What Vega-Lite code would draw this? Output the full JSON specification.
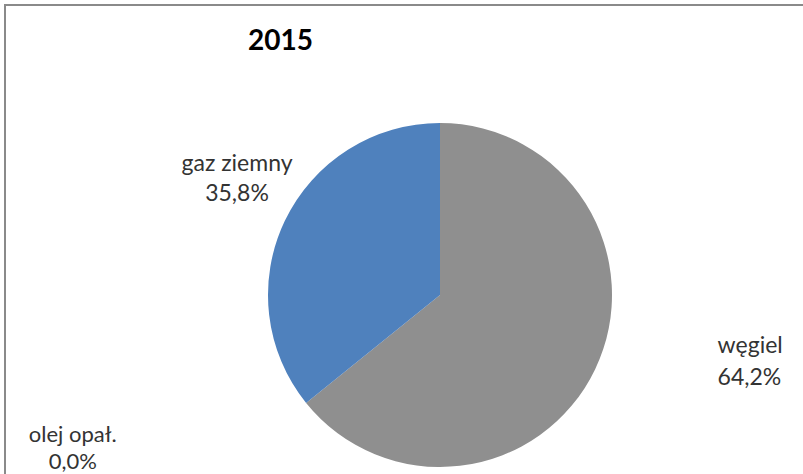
{
  "$schema": "https://vega.github.io/schema/vega-lite/v6.json",
  "width": 870,
  "height": 580,
  "autosize": {"type": "none"},
  "padding": {"left": 5, "top": 5, "right": 0, "bottom": 0},
  "background": "white",
  "view": {"stroke": "#8a8a8a", "strokeWidth": 2, "fill": "#ffffff"},
  "title": {"text": "2015", "font": "Lato", "fontSize": 28, "fontWeight": "bold", "color": "#000000", "anchor": "start", "frame": "group", "dx": 243, "dy": 55},
  "data": {"values": [
    {"source": "węgiel", "share": 64.2, "ord": 1, "label": "węgiel\n64,2%"},
    {"source": "olej opał.", "share": 0.0, "ord": 2, "label": "olej opał.\n0,0%"},
    {"source": "gaz ziemny", "share": 35.8, "ord": 3, "label": "gaz ziemny\n35,8%"}
  ]},
  "encoding": {
    "theta": {"field": "share", "type": "quantitative", "stack": true},
    "order": {"field": "ord", "type": "quantitative"}
  },
  "layer": [
    {
      "mark": {"type": "arc", "radius": 172, "strokeWidth": 0},
      "encoding": {
        "color": {"field": "source", "type": "nominal",
          "scale": {"domain": ["węgiel", "olej opał.", "gaz ziemny"], "range": ["#8f8f8f", "#984807", "#4f81bd"]},
          "legend": null}
      }
    },
    {
      "mark": {"type": "text", "radius": 290, "align": "left", "baseline": "middle", "dx": 16, "dy": -74, "font": "Lato", "fontSize": 23, "lineHeight": 32, "color": "#333333", "lineBreak": "\n"},
      "encoding": {"text": {"condition": {"test": "datum.source === 'węgiel'", "field": "label"}, "value": ""}}
    },
    {
      "mark": {"type": "text", "radius": 225, "align": "center", "baseline": "middle", "dy": -34, "font": "Lato", "fontSize": 23, "lineHeight": 30, "color": "#333333", "lineBreak": "\n"},
      "encoding": {"text": {"condition": {"test": "datum.source === 'gaz ziemny'", "field": "label"}, "value": ""}}
    },
    {
      "mark": {"type": "text", "radius": 247, "align": "center", "baseline": "middle", "dx": -175, "dy": -15, "font": "Lato", "fontSize": 22, "lineHeight": 27, "color": "#333333", "lineBreak": "\n"},
      "encoding": {"text": {"condition": {"test": "datum.source === 'olej opał.'", "field": "label"}, "value": ""}}
    }
  ]
}
